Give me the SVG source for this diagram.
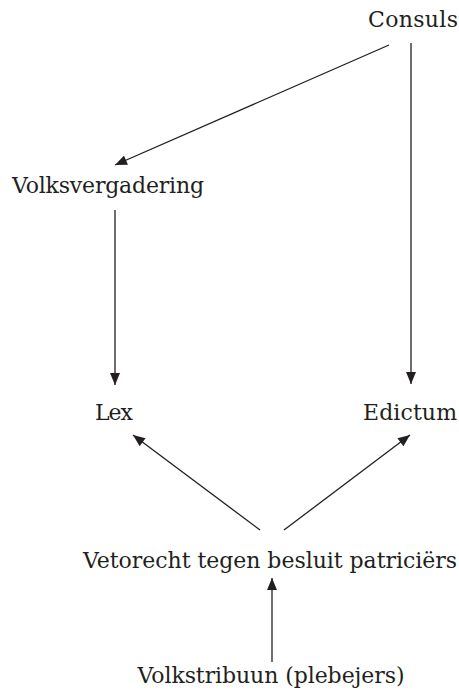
<svg xmlns="http://www.w3.org/2000/svg" width="459" height="695" viewBox="0 0 459 695">
<style>
text{font-family:"DejaVu Serif","Liberation Serif",serif;font-size:22px;fill:#231f20;text-anchor:middle}
.c{stroke:#231f20;stroke-width:1.3;fill:none;marker-end:url(#ah)}
</style>
<defs>
<marker id="ah" viewBox="0 0 12 10" refX="12" refY="5" markerWidth="13" markerHeight="10" markerUnits="userSpaceOnUse" orient="auto">
<path d="M0,0L12,5L0,10z" fill="#231f20"/>
</marker>
</defs>
<rect width="459" height="695" fill="#fff"/>
<g id="connectors">
<line class="c" x1="389" y1="45" x2="115" y2="165"/>
<line class="c" x1="411" y1="43" x2="411" y2="384"/>
<line class="c" x1="115" y1="210" x2="115" y2="385"/>
<line class="c" x1="260" y1="530" x2="133" y2="435"/>
<line class="c" x1="284" y1="530" x2="410" y2="435"/>
<line class="c" x1="272" y1="662" x2="272" y2="578"/>
</g>
<g id="consuls"><text x="413" y="27" textLength="90" lengthAdjust="spacing">Consuls</text></g>
<g id="volksvergadering"><text x="108" y="193" textLength="192" lengthAdjust="spacing">Volksvergadering</text></g>
<g id="lex"><text x="114" y="420" textLength="38" lengthAdjust="spacing">Lex</text></g>
<g id="edictum"><text x="410" y="420" textLength="94" lengthAdjust="spacing">Edictum</text></g>
<g id="vetorecht"><text x="270" y="568" textLength="374" lengthAdjust="spacing">Vetorecht tegen besluit patriciërs</text></g>
<g id="volkstribuun"><text x="271" y="683" textLength="267" lengthAdjust="spacing">Volkstribuun (plebejers)</text></g>
</svg>
